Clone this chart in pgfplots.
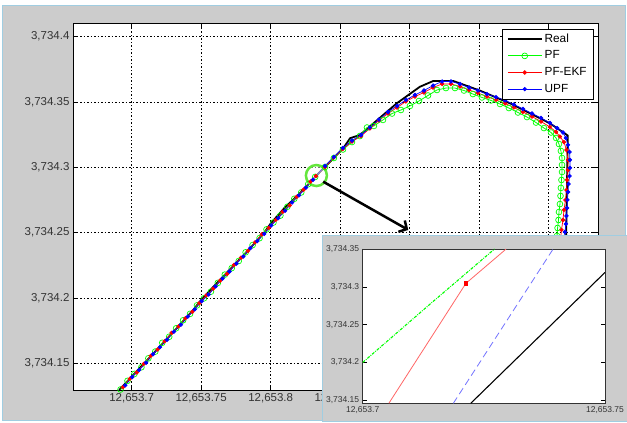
\documentclass[border=0pt]{standalone}
\usepackage{pgfplots}
\pgfplotsset{compat=1.18}
\usepackage{fontspec}
\setmainfont{Liberation Sans}
\usetikzlibrary{arrows.meta}
\definecolor{figgray}{RGB}{204,204,204}
\definecolor{figborder}{RGB}{160,205,225}
\definecolor{mgreen}{RGB}{0,255,0}
\definecolor{circgreen}{RGB}{100,230,60}
\begin{document}
\begin{tikzpicture}
\useasboundingbox (0pt,0pt) rectangle (627pt,423pt);
\fill[white] (0pt,0pt) rectangle (627pt,423pt);
\filldraw[fill=figgray, draw=figborder, line width=1pt] (2.5pt,2pt) rectangle (625pt,417.5pt);
\begin{axis}[
  at={(73pt,33pt)}, anchor=south west, scale only axis,
  width=525.3pt, height=366.7pt,
  xmin=0.6578, xmax=1.0357, ymin=0.1297, ymax=0.4101,
  axis background/.style={fill=white},
  xtick={0.7,0.75,0.8,0.85,0.9,0.95,1.0},
  xticklabels={12{,}653.7,12{,}653.75,12{,}653.8,12{,}653.85,12{,}653.9,12{,}653.95,12{,}654},
  ytick={0.15,0.2,0.25,0.3,0.35,0.4},
  yticklabels={3{,}734.15,3{,}734.2,3{,}734.25,3{,}734.3,3{,}734.35,3{,}734.4},
  grid=major, major grid style={black, line width=0.6pt, dash pattern=on 1.5pt off 2pt},
  tick align=inside, major tick length=5pt, tick style={black, line width=0.6pt},
  axis line style={black, line width=0.8pt},
  ticklabel style={font=\fontsize{11.5}{13}\selectfont, color=black!80},
  legend style={at={(1,1)}, anchor=north east, xshift=-5pt, yshift=-6pt,
    draw=black, fill=white, font=\fontsize{11.8}{13}\selectfont,
    inner xsep=4.5pt, inner ysep=1.5pt, row sep=0pt,
    nodes={inner ysep=2.8pt, text height=8.6pt, text depth=2.4pt}},
  legend cell align=left,
  legend image code/.code={\draw[mark repeat=2,mark phase=2,#1] plot coordinates {(0pt,0pt) (17pt,0pt) (34pt,0pt)};},
]
% Real
\addplot[black, line width=1.8pt] coordinates {
(0.6910,0.1297) (0.7200,0.1626) (0.7440,0.1905) (0.7500,0.1985) (0.7600,0.2100)
(0.7800,0.2322) (0.7950,0.2495) (0.8000,0.2570) (0.8100,0.2690) (0.8200,0.2790)
(0.8326,0.2933) (0.8522,0.3145) (0.8571,0.3222) (0.8642,0.3247) (0.8907,0.3489)
(0.9074,0.3616) (0.9170,0.3660) (0.9314,0.3660) (0.9506,0.3586) (0.9722,0.3489)
(1.0009,0.3336) (1.0137,0.3243) (1.0137,0.3200) (1.0125,0.2444) (1.0118,0.1300)
};
\addlegendentry{Real}
% PF
\addplot[mgreen, line width=0.8pt, mark=o, mark size=2.9pt, mark options={solid, line width=0.7pt}] coordinates {
(0.692,0.1301) (0.697,0.1367) (0.702,0.1420) (0.707,0.1471) (0.712,0.1539)
(0.717,0.1591) (0.722,0.1658) (0.727,0.1704) (0.732,0.1769) (0.737,0.1830)
(0.742,0.1879) (0.747,0.1944) (0.752,0.1998) (0.757,0.2049) (0.762,0.2116)
(0.767,0.2179) (0.772,0.2229) (0.777,0.2283) (0.782,0.2350) (0.787,0.2405)
(0.792,0.2458) (0.797,0.2525) (0.802,0.2578) (0.807,0.2631) (0.812,0.2698)
(0.817,0.2759) (0.822,0.2808) (0.827,0.2871) (0.832,0.2926)
(0.8391,0.3002) (0.8455,0.3071) (0.8520,0.3136) (0.8585,0.3193) (0.8642,0.3239)
(0.8693,0.3304) (0.8743,0.3316) (0.8808,0.3362) (0.8873,0.3411) (0.8937,0.3438)
(0.9002,0.3469) (0.9067,0.3507) (0.9132,0.3549) (0.9196,0.3591) (0.9261,0.3606)
(0.9326,0.3606) (0.9391,0.3587) (0.9455,0.3560) (0.9520,0.3534) (0.9585,0.3511)
(0.9650,0.3484) (0.9714,0.3453) (0.9779,0.3419) (0.9844,0.3384) (0.9909,0.3342)
(0.9966,0.3300) (1.0017,0.3266) (1.0053,0.3224) (1.0074,0.3178) (1.0088,0.3125)
(1.0096,0.3071) (1.0096,0.3018) (1.0096,0.2964) (1.0092,0.2903) (1.0088,0.2842)
(1.0085,0.2781) (1.0081,0.2719) (1.0074,0.2658) (1.0071,0.2597) (1.0064,0.2536)
(1.0060,0.2475) (1.0056,0.2414) (1.0053,0.2352) (1.0049,0.2291)
};
\addlegendentry{PF}
% PF-EKF
\addplot[red, line width=0.7pt, mark=*, mark size=1.8pt] coordinates {
(0.6937,0.1318) (0.6987,0.1383) (0.7037,0.1431) (0.7087,0.1497) (0.7137,0.1558)
(0.7187,0.1607) (0.7237,0.1670) (0.7287,0.1733) (0.7337,0.1783) (0.7387,0.1846)
(0.7437,0.1896) (0.7487,0.1961) (0.7537,0.2021) (0.7587,0.2072) (0.7637,0.2134)
(0.7687,0.2185) (0.7737,0.2254) (0.7787,0.2309) (0.7837,0.2361) (0.7887,0.2426)
(0.7937,0.2487) (0.7987,0.2537) (0.8037,0.2598) (0.8087,0.2660) (0.8137,0.2709)
(0.8187,0.2774) (0.8237,0.2829) (0.8287,0.2891) (0.8326,0.2933)
(0.8391,0.3002) (0.8455,0.3075) (0.8520,0.3140) (0.8585,0.3197) (0.8650,0.3239)
(0.8714,0.3297) (0.8779,0.3358) (0.8844,0.3411) (0.8909,0.3457) (0.8973,0.3503)
(0.9038,0.3541) (0.9103,0.3572) (0.9168,0.3610) (0.9233,0.3637) (0.9297,0.3637)
(0.9362,0.3618) (0.9427,0.3591) (0.9491,0.3568) (0.9556,0.3541) (0.9621,0.3515)
(0.9686,0.3488) (0.9750,0.3457) (0.9815,0.3423) (0.9880,0.3388) (0.9945,0.3350)
(1.0009,0.3308) (1.0053,0.3270) (1.0081,0.3235) (1.0110,0.3193) (1.0128,0.3132)
(1.0139,0.3056) (1.0139,0.2979) (1.0132,0.2903) (1.0128,0.2826) (1.0121,0.2750)
(1.0110,0.2674) (1.0103,0.2597) (1.0092,0.2521) (1.0085,0.2444) (1.0081,0.2368)
(1.0078,0.2291)
};
\addlegendentry{PF-EKF}
% UPF
\addplot[blue, line width=0.7pt, mark=*, mark size=1.8pt] coordinates {
(0.6954,0.1332) (0.7004,0.1396) (0.7054,0.1450) (0.7104,0.1505) (0.7154,0.1571)
(0.7204,0.1625) (0.7254,0.1681) (0.7304,0.1743) (0.7354,0.1796) (0.7404,0.1858)
(0.7454,0.1914) (0.7504,0.1976) (0.7554,0.2027) (0.7604,0.2089) (0.7654,0.2149)
(0.7704,0.2203) (0.7754,0.2264) (0.7804,0.2318) (0.7854,0.2382) (0.7904,0.2436)
(0.7954,0.2491) (0.8004,0.2555) (0.8054,0.2611) (0.8104,0.2668) (0.8154,0.2731)
(0.8204,0.2785) (0.8254,0.2845) (0.8304,0.2904)
(0.8391,0.3010) (0.8455,0.3079) (0.8520,0.3148) (0.8585,0.3205) (0.8650,0.3247)
(0.8714,0.3304) (0.8779,0.3365) (0.8844,0.3423) (0.8909,0.3469) (0.8973,0.3515)
(0.9038,0.3553) (0.9103,0.3587) (0.9168,0.3625) (0.9233,0.3656) (0.9297,0.3656)
(0.9362,0.3637) (0.9427,0.3610) (0.9491,0.3587) (0.9556,0.3560) (0.9621,0.3537)
(0.9686,0.3511) (0.9750,0.3480) (0.9815,0.3446) (0.9880,0.3411) (0.9945,0.3377)
(1.0009,0.3339) (1.0060,0.3300) (1.0103,0.3266) (1.0124,0.3224) (1.0139,0.3171)
(1.0150,0.3117) (1.0153,0.3056) (1.0153,0.2995) (1.0150,0.2933) (1.0143,0.2872)
(1.0139,0.2811) (1.0135,0.2750) (1.0132,0.2689) (1.0128,0.2628) (1.0124,0.2567)
(1.0117,0.2505) (1.0114,0.2444) (1.0110,0.2368) (1.0107,0.2291)
};
\addlegendentry{UPF}
\draw[circgreen, line width=2.5pt, fill=white, fill opacity=0.45] (axis cs:0.8329,0.2937) circle[radius=10.5pt];
\draw[black, line width=2.5pt, -{Straight Barb[length=6pt,width=13pt]}] (axis cs:0.8378,0.2890) -- (axis cs:0.8990,0.2521);
\end{axis}
% inset panel
\fill[figgray] (322.7pt,1.3pt) rectangle (630pt,187.3pt);
\draw[figborder, line width=1pt] (630pt,187.3pt) -- (322.7pt,187.3pt) -- (322.7pt,1.3pt) -- (630pt,1.3pt);
\begin{axis}[
  at={(362.7pt,19.7pt)}, anchor=south west, scale only axis,
  width=242.3pt, height=154.3pt,
  xmin=0.7, xmax=0.75, ymin=0.146, ymax=0.35,
  axis background/.style={fill=white},
  xtick={0.7,0.75}, xticklabels={12{,}653.7,12{,}653.75},
  ytick={0.15,0.2,0.25,0.3,0.35},
  yticklabels={3{,}734.15,3{,}734.2,3{,}734.25,3{,}734.3,3{,}734.35},
  tick align=inside, major tick length=4pt, tick style={black, line width=0.5pt},
  axis line style={black!80, line width=0.7pt},
  ticklabel style={font=\fontsize{8.5}{10}\selectfont, color=black!80},
]
\addplot[mgreen, line width=1.1pt, dash pattern=on 3pt off 1.2pt on 0.8pt off 1.2pt] coordinates {(0.7000,0.2000) (0.7136,0.2755) (0.7272,0.3500)};
\addplot[red!60, line width=0.8pt] coordinates {(0.7054,0.146) (0.7213,0.3046) (0.7296,0.3500)};
\addplot[red, only marks, mark=square*, mark size=1.7pt] coordinates {(0.7213,0.3046)};
\addplot[blue!55, line width=0.8pt, dash pattern=on 7pt off 4pt] coordinates {(0.7187,0.146) (0.7393,0.3500)};
\addplot[black, line width=1.1pt] coordinates {(0.7223,0.146) (0.7500,0.3190)};
\end{axis}
\end{tikzpicture}
\end{document}
